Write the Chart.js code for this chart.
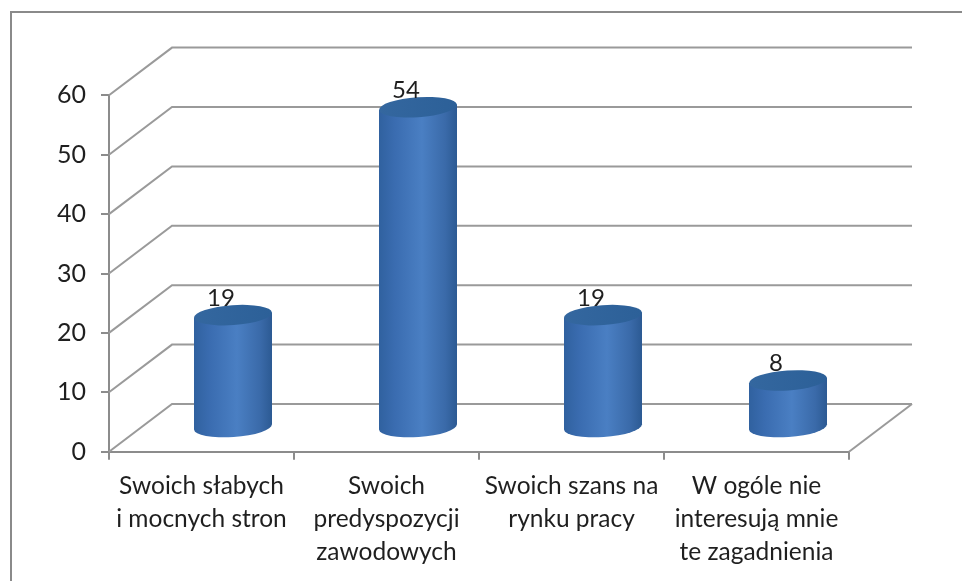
<!DOCTYPE html>
<html><head><meta charset="utf-8">
<style>html,body{margin:0;padding:0;background:#fff}canvas{display:block;filter:blur(0.5px)}</style>
<script src="https://cdn.jsdelivr.net/npm/chart.js@4"></script></head>
<body><div style="width:962px;height:581px"><canvas id="c" width="962" height="581"></canvas></div>
<script>
const categories = [
  ["Swoich słabych","i mocnych stron"],
  ["Swoich","predyspozycji","zawodowych"],
  ["Swoich szans na","rynku pracy"],
  ["W ogóle nie","interesują mnie","te zagadnienia"]
];
const seriesValues = [19,54,19,8];
const yMin = 0, yMax = 60, yStep = 10;

const FONT = 'Lato, "Open Sans", sans-serif';
const GRID = '#9a9a9a', AXIS = '#8c8c8c', TEXT = '#1f1f1f';
const DEPTH_X = 63, DEPTH_Y = 47.7;       // back wall offset
const BAR_DX = 31.5, BAR_DY = 23.7;       // bars stand mid-way on the floor
const RY = 10, TILT = -4 * Math.PI / 180;

function sideGradient(ctx, cx, hw) {
  const g = ctx.createLinearGradient(cx - hw, 0, cx + hw, 0);
  g.addColorStop(0, '#30619f');
  g.addColorStop(0.2, '#3a6cb0');
  g.addColorStop(0.55, '#4a7fc3');
  g.addColorStop(0.85, '#3a6aa9');
  g.addColorStop(1, '#2c5a93');
  return g;
}
function ellipse(ctx, x, y, rx) {
  ctx.beginPath();
  ctx.ellipse(x, y, rx, RY, TILT, 0, Math.PI * 2);
}
function bodyPath(ctx, el) {
  const hw = el.width / 2, d = hw * Math.sin(-TILT);
  ctx.moveTo(el.x - hw, el.y + d);
  ctx.lineTo(el.x + hw, el.y - d);
  ctx.lineTo(el.x + hw, el.base - d);
  ctx.lineTo(el.x - hw, el.base + d);
  ctx.closePath();
}
const cyl = {
  id: 'cyl',
  beforeDraw(chart) {
    const ctx = chart.ctx;
    ctx.save();
    ctx.fillStyle = '#fff';
    ctx.fillRect(0, 0, chart.width, chart.height);
    ctx.strokeStyle = '#8a8a8a';
    ctx.lineWidth = 2;
    ctx.beginPath();
    ctx.moveTo(11, chart.height);
    ctx.lineTo(11, 12);
    ctx.lineTo(chart.width, 12);
    ctx.stroke();
    ctx.restore();
  },
  beforeDatasetsDraw(chart) {
    const ctx = chart.ctx, y = chart.scales.y, a = chart.chartArea;
    ctx.save();
    ctx.strokeStyle = GRID;
    ctx.lineWidth = 2;
    y.ticks.forEach(t => {
      const p = y.getPixelForValue(t.value);
      ctx.beginPath();
      ctx.moveTo(a.left, p);
      ctx.lineTo(a.left + DEPTH_X, p - DEPTH_Y);
      ctx.lineTo(a.right + DEPTH_X, p - DEPTH_Y);
      ctx.stroke();
    });
    const b = y.getPixelForValue(yMin);
    ctx.beginPath();
    ctx.moveTo(a.right + DEPTH_X, b - DEPTH_Y);
    ctx.lineTo(a.right, b);
    ctx.stroke();
    ctx.restore();
  },
  beforeDatasetDraw(chart, args) {
    const ctx = chart.ctx, els = chart.getDatasetMeta(args.index).data;
    ctx.save();
    ctx.translate(BAR_DX, -BAR_DY);
    els.forEach(el => {
      const hw = el.width / 2;
      ctx.fillStyle = sideGradient(ctx, el.x, hw);
      ellipse(ctx, el.x, el.base, hw);
      ctx.fill();
      ctx.beginPath();
      bodyPath(ctx, el);
      ctx.fill();
    });
    ctx.beginPath();
    els.forEach(el => bodyPath(ctx, el));
    ctx.clip();
  },
  afterDatasetDraw(chart, args) {
    const ctx = chart.ctx, els = chart.getDatasetMeta(args.index).data;
    ctx.restore();
    ctx.save();
    ctx.translate(BAR_DX, -BAR_DY);
    els.forEach(el => {
      const hw = el.width / 2;
      const g = ctx.createLinearGradient(el.x - hw, 0, el.x + hw, 0);
      g.addColorStop(0, '#34679f');
      g.addColorStop(1, '#2c6098');
      ctx.fillStyle = g;
      ellipse(ctx, el.x, el.y, hw);
      ctx.fill();
    });
    ctx.restore();
    ctx.save();
    ctx.font = '24px ' + FONT;
    ctx.fillStyle = TEXT;
    ctx.textAlign = 'center';
    ctx.textBaseline = 'middle';
    els.forEach((el, i) => {
      ctx.fillText(String(seriesValues[i]), el.x + BAR_DX - 12, el.y - BAR_DY - 17);
    });
    ctx.restore();
  }
};

new Chart(document.getElementById('c'), {
  type: 'bar',
  data: {
    labels: categories,
    datasets: [{
      data: seriesValues,
      barPercentage: 78 / 185,
      categoryPercentage: 1,
      backgroundColor(c) {
        const s = c.chart.scales.x;
        const p = s && c.dataIndex !== undefined ? s.getPixelForValue(c.dataIndex) : NaN;
        if (!isFinite(p)) return '#3a6db0';
        return sideGradient(c.chart.ctx, p, 39);
      }
    }]
  },
  options: {
    responsive: false,
    animation: false,
    layout: { padding: { left: 0, top: 95.3, right: 113, bottom: 0 } },
    plugins: { legend: { display: false }, tooltip: { enabled: false } },
    scales: {
      x: {
        grid: { drawOnChartArea: false, color: AXIS, lineWidth: 2, tickLength: 8, tickColor: AXIS },
        border: { color: AXIS, width: 2 },
        ticks: { color: TEXT, maxRotation: 0, autoSkip: false, padding: 10,
                 font: { family: FONT, size: 24.5, lineHeight: 33 / 24.5 } },
        afterFit(s) { s.height = 129.3; }
      },
      y: {
        min: yMin, max: yMax,
        grid: { drawOnChartArea: false, color: AXIS, lineWidth: 2, tickLength: 8, tickColor: AXIS },
        border: { color: AXIS, width: 2 },
        ticks: { stepSize: yStep, color: TEXT, padding: 15, font: { family: FONT, size: 25 } },
        afterFit(s) { s.width = 109; }
      }
    }
  },
  plugins: [cyl]
});
</script></body></html>
